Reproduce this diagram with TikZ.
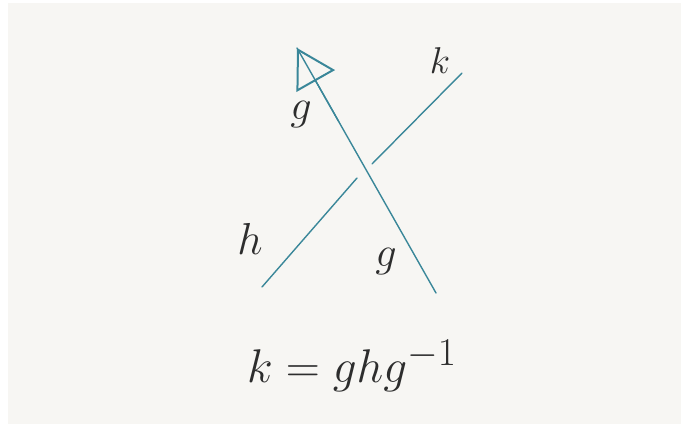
\documentclass[tikz,border=0pt]{standalone}
\usetikzlibrary{arrows.meta,calc}
\definecolor{paper}{RGB}{247,246,243}
\definecolor{strandcol}{RGB}{58,135,153}
\definecolor{inkcol}{RGB}{45,45,45}
\newcommand{\handmath}[2]{\scalebox{#1}{\Huge$#2$}}
\tikzset{
  strand/.style={draw=strandcol,line width=1.4pt,line cap=round},
  lbl/.style={text=inkcol,inner sep=0pt},
}
\begin{document}
\begin{tikzpicture}[x=1pt,y=-1pt]
    \useasboundingbox (0,0) rectangle (681,428);
    \fill[paper] (8,3) rectangle (681,424);
    % over strand g, with its arrow
    \coordinate (gbot) at (436,293);
    \coordinate (gtop) at (297,48);
    \draw[strand] (gbot) -- (gtop);
    \draw[strand,-{Triangle[open,length=38pt,width=44pt,line width=2pt]}] ($(gtop)!0.3!(gbot)$) -- (gtop);
    % under strand h / k
    \coordinate (hbot) at (262,287);
    \coordinate (hgap) at (357,178);
    \coordinate (kgap) at (372,164);
    \coordinate (ktop) at (462,73);
    \draw[strand] (hbot) -- (hgap);
    \draw[strand] (kgap) -- (ktop);
    % labels
    \node[lbl] (gup) at (301,115) {\handmath{1.7}{g}};
    \node[lbl] (kup) at (440,61) {\handmath{1.5}{k}};
    \node[lbl] (hlow) at (250,239) {\handmath{1.8}{h}};
    \node[lbl] (glow) at (386,262) {\handmath{1.7}{g}};
    \node[lbl] (eq) at (352,366) {\handmath{1.9}{k = ghg^{-1}}};
  \end{tikzpicture}
\end{document}
